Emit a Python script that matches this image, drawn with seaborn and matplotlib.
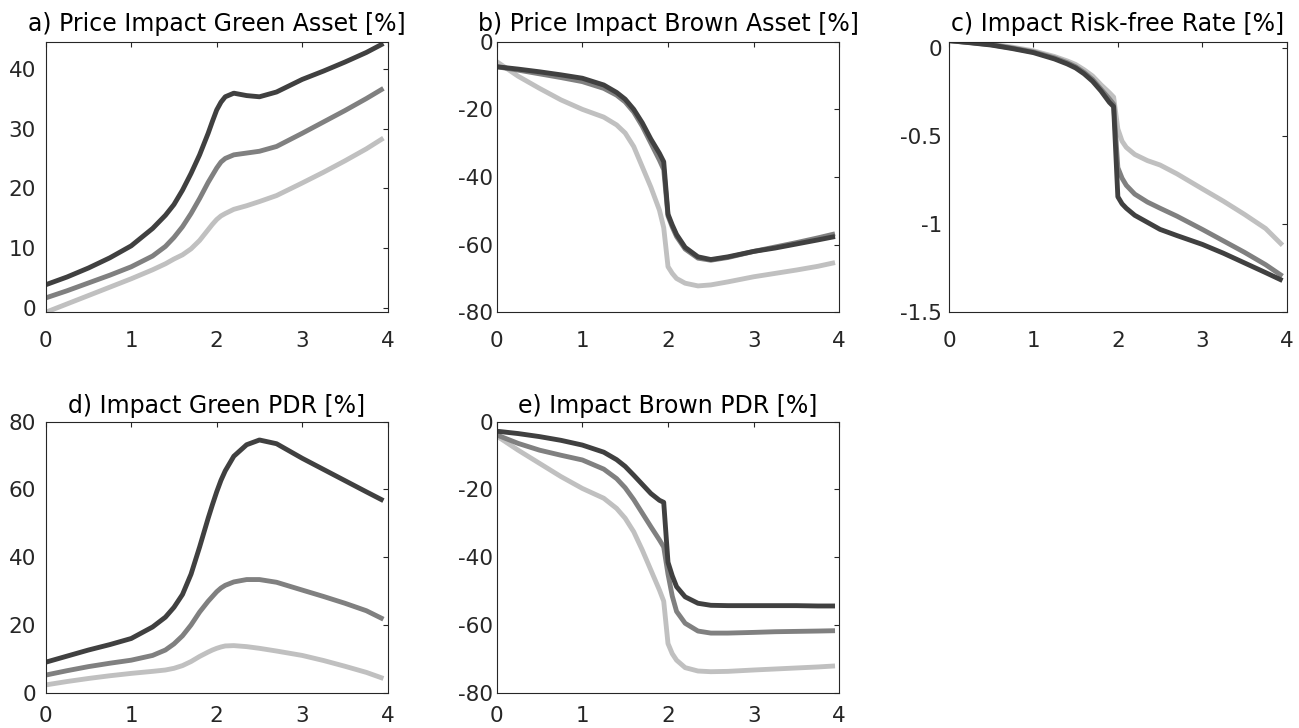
import numpy as np
import pandas as pd
import matplotlib
matplotlib.use("Agg")
import matplotlib.pyplot as plt
import seaborn as sns

# Horizon grid shared by all panels
x = [0.0, 0.25, 0.5, 0.75, 1.0, 1.25, 1.4, 1.5, 1.6, 1.7, 1.8, 1.9, 1.95, 2.0,
     2.05, 2.1, 2.2, 2.35, 2.5, 2.7, 3.0, 3.25, 3.5, 3.75, 3.95]

# a) Price impact, green asset [%]
green_price_light = [-0.7, 0.7, 2.1, 3.5, 4.9, 6.4, 7.4, 8.2, 8.9, 9.9, 11.3, 13.1, 14.0, 14.8,
                     15.4, 15.8, 16.5, 17.1, 17.8, 18.8, 20.9, 22.7, 24.6, 26.6, 28.4]
green_price_mid = [1.7, 2.9, 4.2, 5.5, 6.9, 8.7, 10.3, 11.8, 13.6, 15.8, 18.3, 21.0, 22.2, 23.4,
                   24.4, 25.0, 25.6, 25.9, 26.2, 27.0, 29.2, 31.1, 33.0, 35.0, 36.7]
green_price_dark = [3.9, 5.2, 6.7, 8.4, 10.4, 13.3, 15.5, 17.3, 19.7, 22.5, 25.6, 29.2, 31.2, 33.1,
                    34.4, 35.3, 35.9, 35.5, 35.3, 36.1, 38.2, 39.6, 41.1, 42.7, 44.2]

# b) Price impact, brown asset [%]
brown_price_light = [-5.9, -10.2, -13.8, -17.2, -20.0, -22.3, -24.6, -27.0, -31.0, -37.0, -43.0,
                     -49.8, -55.0, -66.5, -68.5, -70.0, -71.4, -72.2, -71.9, -71.0, -69.5, -68.5,
                     -67.5, -66.4, -65.3]
brown_price_mid = [-7.4, -8.4, -9.5, -10.6, -11.8, -13.8, -15.8, -17.8, -20.8, -25.0, -30.0, -35.0,
                   -37.8, -51.5, -54.8, -57.6, -61.3, -64.0, -64.6, -63.8, -62.0, -60.7, -59.4,
                   -58.0, -56.8]
brown_price_dark = [-7.4, -8.1, -8.9, -9.8, -10.8, -12.8, -15.0, -17.0, -20.0, -24.0, -28.8, -33.0,
                    -35.5, -51.0, -54.2, -57.0, -60.8, -63.6, -64.4, -63.6, -62.0, -61.0, -59.8,
                    -58.6, -57.6]

# c) Impact on the risk-free rate [%]
rf_light = [0.04, 0.03, 0.02, 0.003, -0.018, -0.05, -0.075, -0.095, -0.125, -0.16, -0.21, -0.255,
            -0.28, -0.46, -0.53, -0.565, -0.605, -0.64, -0.665, -0.715, -0.80, -0.87, -0.945,
            -1.025, -1.12]
rf_mid = [0.04, 0.029, 0.017, -0.002, -0.024, -0.058, -0.085, -0.108, -0.14, -0.18, -0.235, -0.29,
          -0.32, -0.68, -0.74, -0.78, -0.83, -0.875, -0.91, -0.955, -1.03, -1.095, -1.16, -1.23,
          -1.295]
rf_dark = [0.04, 0.028, 0.015, -0.005, -0.028, -0.064, -0.092, -0.115, -0.148, -0.19, -0.245, -0.31,
           -0.334, -0.845, -0.885, -0.91, -0.95, -0.99, -1.03, -1.065, -1.115, -1.165, -1.22,
           -1.275, -1.32]

# d) Impact on the green price-dividend ratio [%]
green_pdr_light = [2.3, 3.3, 4.2, 5.0, 5.7, 6.3, 6.7, 7.2, 8.0, 9.2, 10.7, 12.0, 12.6, 13.1,
                   13.5, 13.8, 13.9, 13.6, 13.1, 12.3, 11.0, 9.5, 7.8, 6.0, 4.2]
green_pdr_mid = [5.2, 6.5, 7.7, 8.7, 9.6, 11.0, 12.6, 14.4, 16.8, 20.0, 23.8, 27.0, 28.4, 29.8,
                 30.9, 31.7, 32.7, 33.4, 33.4, 32.6, 30.3, 28.4, 26.4, 24.2, 21.7]
green_pdr_dark = [9.0, 10.8, 12.6, 14.2, 16.0, 19.4, 22.3, 25.2, 29.0, 35.0, 43.0, 51.5, 55.5, 59.3,
                  62.7, 65.5, 69.8, 73.2, 74.6, 73.5, 69.2, 65.9, 62.6, 59.3, 56.7]

# e) Impact on the brown price-dividend ratio [%]
brown_pdr_light = [-4.2, -8.4, -12.3, -16.2, -19.7, -22.6, -25.6, -28.5, -32.5, -37.9, -43.8, -49.7,
                   -53.0, -65.5, -68.5, -70.4, -72.6, -73.6, -73.8, -73.7, -73.3, -73.0, -72.7,
                   -72.4, -72.1]
brown_pdr_mid = [-3.9, -6.4, -8.4, -9.9, -11.3, -14.0, -16.8, -19.5, -23.0, -27.0, -31.0, -34.9,
                 -37.0, -45.0, -51.5, -56.0, -59.5, -61.8, -62.4, -62.4, -62.2, -62.0, -61.9,
                 -61.8, -61.7]
brown_pdr_dark = [-2.8, -3.5, -4.4, -5.5, -6.9, -9.0, -11.2, -13.2, -15.8, -18.5, -21.2, -23.2,
                  -23.8, -41.5, -45.5, -48.7, -51.7, -53.6, -54.2, -54.3, -54.3, -54.3, -54.3,
                  -54.4, -54.4]

titles = ["a) Price Impact Green Asset [%]",
          "b) Price Impact Brown Asset [%]",
          "c) Impact Risk-free Rate [%]",
          "d) Impact Green PDR [%]",
          "e) Impact Brown PDR [%]"]

series_names = ["light", "mid", "dark"]
panels = [
    (green_price_light, green_price_mid, green_price_dark),
    (brown_price_light, brown_price_mid, brown_price_dark),
    (rf_light, rf_mid, rf_dark),
    (green_pdr_light, green_pdr_mid, green_pdr_dark),
    (brown_pdr_light, brown_pdr_mid, brown_pdr_dark),
]

ylims = [(-0.7, 44.5), (-80, 0), (-1.5, 0.034), (0, 80), (-80, 0)]
yticks = [[0, 10, 20, 30, 40], [-80, -60, -40, -20, 0], [-1.5, -1, -0.5, 0],
          [0, 20, 40, 60, 80], [-80, -60, -40, -20, 0]]
yticklabels = [["0", "10", "20", "30", "40"],
               ["-80", "-60", "-40", "-20", "0"],
               ["-1.5", "-1", "-0.5", "0"],
               ["0", "20", "40", "60", "80"],
               ["-80", "-60", "-40", "-20", "0"]]
xticks = [0, 1, 2, 3, 4]
xticklabels = ["0", "1", "2", "3", "4"]

palette = {"light": "#c0c0c0", "mid": "#808080", "dark": "#404040"}

sns.set_theme(style="white")
plt.rcParams["font.family"] = ["DejaVu Sans"]
plt.rcParams["axes.unicode_minus"] = False

W, H = 1299, 728
fig = plt.figure(figsize=(W / 100, H / 100), dpi=100)
fig.patch.set_facecolor("white")

# Axes boxes in pixels: (left, top, right, bottom)
boxes = [
    (45.7, 41.7, 387.7, 312.3),
    (496.7, 41.7, 839.3, 312.3),
    (949.0, 41.7, 1286.7, 312.3),
    (45.7, 421.7, 387.7, 692.7),
    (496.7, 421.7, 839.3, 692.7),
]
ypads = [7.0, 2.5, 5.0, 7.0, 2.5]
xpads = [13.3, 13.3, 13.3, 9.8, 9.8]
title_pads = [8.0, 8.0, 8.0, 6.3, 6.3]

for i, (box, vals) in enumerate(zip(boxes, panels)):
    l, t, r, b = box
    ax = fig.add_axes([l / W, 1 - b / H, (r - l) / W, (b - t) / H])
    frames = []
    for name, v in zip(series_names, vals):
        frames.append(pd.DataFrame({"x": x, "value": v, "series": name}))
    df = pd.concat(frames, ignore_index=True)
    sns.lineplot(data=df, x="x", y="value", hue="series", hue_order=series_names,
                 palette=palette, estimator=None, sort=False, legend=False,
                 linewidth=3.5, ax=ax)
    for line in ax.get_lines():
        line.set_solid_capstyle("butt")
        line.set_solid_joinstyle("round")
    ax.set_xlim(0, 4)
    ax.set_ylim(*ylims[i])
    ax.set_xticks(xticks)
    ax.set_xticklabels(xticklabels)
    ax.set_yticks(yticks[i])
    ax.set_yticklabels(yticklabels[i])
    ax.set_xlabel("")
    ax.set_ylabel("")
    ax.set_title(titles[i], fontsize=17, color="black", pad=title_pads[i])
    for s in ax.spines.values():
        s.set_visible(True)
        s.set_color("#262626")
        s.set_linewidth(0.8)
    ax.tick_params(axis="both", which="both", direction="in", top=True, right=True,
                   length=3.5, width=0.8, color="#262626", labelcolor="#262626",
                   labelsize=15.5)
    ax.tick_params(axis="x", pad=xpads[i])
    ax.tick_params(axis="y", pad=ypads[i])
    ax.set_facecolor("white")

fig.savefig("out.png", dpi=100, facecolor="white")
